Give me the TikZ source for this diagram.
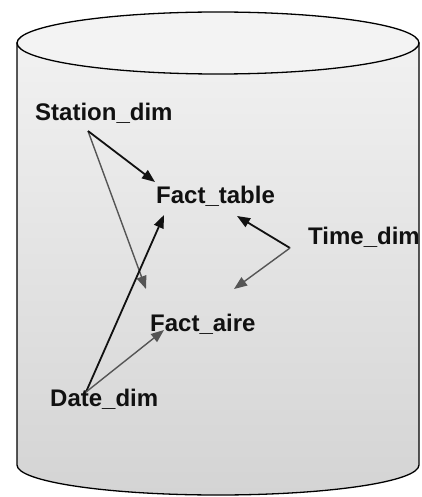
\documentclass[tikz,border=0pt]{standalone}
\usepackage{fontspec}
\setmainfont{Liberation Sans}
\usetikzlibrary{arrows.meta}
\definecolor{darkarr}{HTML}{111111}
\definecolor{grayarr}{HTML}{555555}
\definecolor{bodytop}{HTML}{F1F1F1}
\definecolor{bodybot}{HTML}{D4D4D4}
\definecolor{lidfill}{HTML}{F3F3F3}
\begin{document}
\begin{tikzpicture}[x=1pt,y=-1pt,
  lbl/.style={anchor=base west,inner sep=0pt,font=\fontsize{24}{28}\selectfont\bfseries,text=darkarr},
  blackarrow/.style={draw=darkarr,line width=1.8pt,-{Triangle[length=13pt,width=10pt]}},
  grayarrow/.style={draw=grayarr,line width=1.4pt,-{Triangle[length=13pt,width=10pt]}}]
\useasboundingbox (0,0) rectangle (422,497);
% cylinder body
\shade[top color=bodytop,bottom color=bodybot,draw=black,line width=1.3pt]
  (17,43) -- (17,465) arc[start angle=180,end angle=0,x radius=201,y radius=30] -- (419,43) -- cycle;
% lid
\filldraw[fill=lidfill,draw=black,line width=1.3pt] (218,43) ellipse[x radius=201,y radius=31];
% labels
\node[lbl] (station) at (35,121) {Station\_dim};
\node[lbl] (facttable) at (156,203) {Fact\_table};
\node[lbl] (time) at (308,244) {Time\_dim};
\node[lbl] (factaire) at (150,331) {Fact\_aire};
\node[lbl] (date) at (50,406) {Date\_dim};
% connector end points
\coordinate (stout) at (88,131);
\coordinate (tiout) at (290,248);
\coordinate (daout) at (86,392);
\coordinate (ftinS) at (155,182);
\coordinate (ftinT) at (237,216);
\coordinate (ftinD) at (164,215);
\coordinate (fainS) at (146,289);
\coordinate (fainT) at (234,289);
\coordinate (fainD) at (164,330);
% connectors
\draw[grayarrow] (stout) -- (fainS);
\draw[blackarrow] (stout) -- (ftinS);
\draw[blackarrow] (tiout) -- (ftinT);
\draw[grayarrow] (tiout) -- (fainT);
\draw[blackarrow] (daout) -- (ftinD);
\draw[grayarrow] (daout) -- (fainD);
\end{tikzpicture}
\end{document}
